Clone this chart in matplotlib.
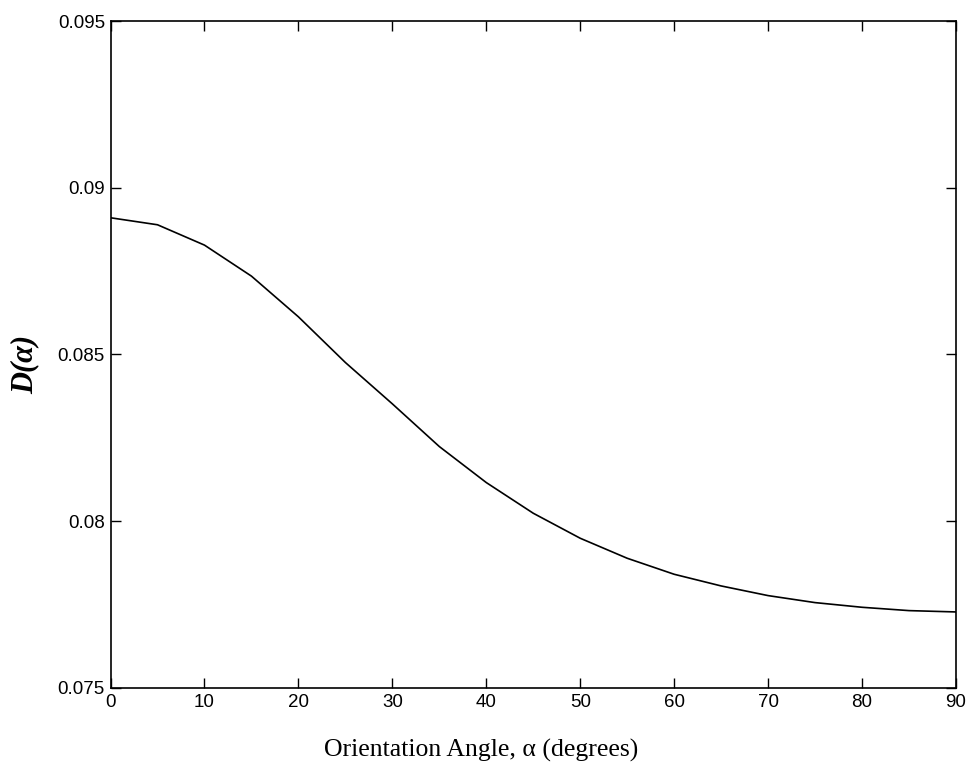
import matplotlib.pyplot as plt
from matplotlib.ticker import FormatStrFormatter

# orientation angle (degrees) and D(alpha)
angles = [0, 5, 10, 15, 20, 25, 30, 35, 40, 45, 50, 55, 60, 65, 70, 75, 80, 85, 90]
d_values = [0.08910, 0.08889, 0.08828, 0.08735, 0.08613, 0.08476, 0.08352,
            0.08224, 0.08116, 0.08024, 0.07949, 0.07889, 0.07841, 0.07806,
            0.07777, 0.07756, 0.07742, 0.07732, 0.07728]

x_ticks = [0, 10, 20, 30, 40, 50, 60, 70, 80, 90]
y_ticks = [0.075, 0.08, 0.085, 0.09, 0.095]

fig = plt.figure(figsize=(9.67, 7.64), dpi=100)
ax = fig.add_axes([0.1143, 0.0995, 0.8743, 0.873])
ax.plot(angles, d_values, color='black', linewidth=1.2)

ax.set_xlim(0, 90)
ax.set_ylim(0.075, 0.095)
ax.set_xticks(x_ticks)
ax.set_yticks(y_ticks)
ax.yaxis.set_major_formatter(FormatStrFormatter('%g'))
ax.tick_params(direction='in', top=True, right=True, length=7, width=1,
               labelsize=13.5, pad=4)
for lab in ax.get_xticklabels() + ax.get_yticklabels():
    lab.set_family('Liberation Sans')
for sp in ax.spines.values():
    sp.set_linewidth(1.2)

fig.text(481 / 967, 1 - 750 / 764, 'Orientation Angle, α (degrees)',
         family='Liberation Serif', fontsize=18.5, ha='center', va='center')
fig.text(25 / 967, 1 - 364 / 764, 'D(α)', family='Liberation Serif',
         fontsize=22, fontweight='bold', style='italic', rotation=90,
         ha='center', va='center')

fig.savefig('out.png', dpi=100)
